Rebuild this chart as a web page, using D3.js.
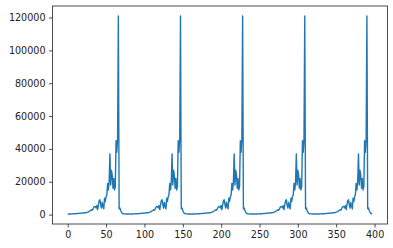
<!DOCTYPE html>
<html><head><meta charset="utf-8">
<script src="https://cdn.jsdelivr.net/npm/d3@7"></script>
<style>
html,body{margin:0;padding:0;background:#fff;}
svg{display:block;}
.tick text{font-family:"DejaVu Sans",sans-serif;font-size:9.6px;fill:#222;}
.tick line{stroke:#222;}
</style></head>
<body>
<svg id="c" width="393" height="248"></svg>
<script>
const values = [
300,320,350,380,400,420,450,480,500,520,550,600,620,650,700,750,800,850,900,950,
1000,1050,1100,1000,1200,1300,1500,1700,2000,2200,2500,3000,2700,3500,4500,5000,4800,4000,5500,3000,
6000,8500,9000,6000,4000,7500,5000,3500,10000,8000,11000,12000,19000,15000,20000,37000,18000,27000,24000,16000,
22000,15000,17000,45000,38000,46000,121000,3500,4000,2500,1500,800,600,500,450,420,400,380,350,330,310,
300,320,350,380,400,420,450,480,500,520,550,600,620,650,700,750,800,850,900,950,
1000,1050,1100,1000,1200,1300,1500,1700,2000,2200,2500,3000,2700,3500,4500,5000,4800,4000,5500,3000,
6000,8500,9000,6000,4000,7500,5000,3500,10000,8000,11000,12000,19000,15000,20000,37000,18000,27000,24000,16000,
22000,15000,17000,45000,38000,46000,121000,3500,4000,2500,1500,800,600,500,450,420,400,380,350,330,310,
300,320,350,380,400,420,450,480,500,520,550,600,620,650,700,750,800,850,900,950,
1000,1050,1100,1000,1200,1300,1500,1700,2000,2200,2500,3000,2700,3500,4500,5000,4800,4000,5500,3000,
6000,8500,9000,6000,4000,7500,5000,3500,10000,8000,11000,12000,19000,15000,20000,37000,18000,27000,24000,16000,
22000,15000,17000,45000,38000,46000,121000,3500,4000,2500,1500,800,600,500,450,420,400,380,350,330,310,
300,320,350,380,400,420,450,480,500,520,550,600,620,650,700,750,800,850,900,950,
1000,1050,1100,1000,1200,1300,1500,1700,2000,2200,2500,3000,2700,3500,4500,5000,4800,4000,5500,3000,
6000,8500,9000,6000,4000,7500,5000,3500,10000,8000,11000,12000,19000,15000,20000,37000,18000,27000,24000,16000,
22000,15000,17000,45000,38000,46000,121000,3500,4000,2500,1500,800,600,500,450,420,400,380,350,330,310,
300,320,350,380,400,420,450,480,500,520,550,600,620,650,700,750,800,850,900,950,
1000,1050,1100,1000,1200,1300,1500,1700,2000,2200,2500,3000,2700,3500,4500,5000,4800,4000,5500,3000,
6000,8500,9000,6000,4000,7500,5000,3500,10000,8000,11000,12000,19000,15000,20000,37000,18000,27000,24000,16000,
22000,15000,17000,45000,38000,46000,121000,3500,4000,2500,1500,800,600,500,450,420,400,380,350,330,310
];
const xTicks = [0,50,100,150,200,250,300,350,400];
const yTicks = [0,20000,40000,60000,80000,100000,120000];
const xMin = 0, xMax = 397;
const yMin = 300, yMax = 121000;

const series = values.slice(0, xMax + 1);
const L = 52.5, R = 387.5, T = 6, B = 224;
const svg = d3.select("#c");
const xm = (xMax - xMin) * 0.05, ym = (yMax - yMin) * 0.05;
const x = d3.scaleLinear().domain([xMin - xm, xMax + xm]).range([L, R]);
const y = d3.scaleLinear().domain([yMin - ym, yMax + ym]).range([B, T]);

svg.append("path").datum(series)
  .attr("fill", "none").attr("stroke", "#1f77b4").attr("stroke-width", 1.4)
  .attr("stroke-linejoin", "round")
  .attr("d", d3.line().x((d, i) => x(i)).y(d => y(d)));

const xa = svg.append("g").attr("transform", `translate(0,${B})`)
  .call(d3.axisBottom(x).tickValues(xTicks).tickSize(3.5).tickPadding(3.5).tickFormat(d3.format("d")));
const ya = svg.append("g").attr("transform", `translate(${L},0)`)
  .call(d3.axisLeft(y).tickValues(yTicks).tickSize(3.5).tickPadding(3.5).tickFormat(d3.format("d")));
xa.select(".domain").remove();
ya.select(".domain").remove();
svg.selectAll(".tick line").attr("stroke-width", 0.8);

svg.append("rect").attr("x", L).attr("y", T).attr("width", R - L).attr("height", B - T)
  .attr("fill", "none").attr("stroke", "#222").attr("stroke-width", 0.8);
</script>
</body></html>
